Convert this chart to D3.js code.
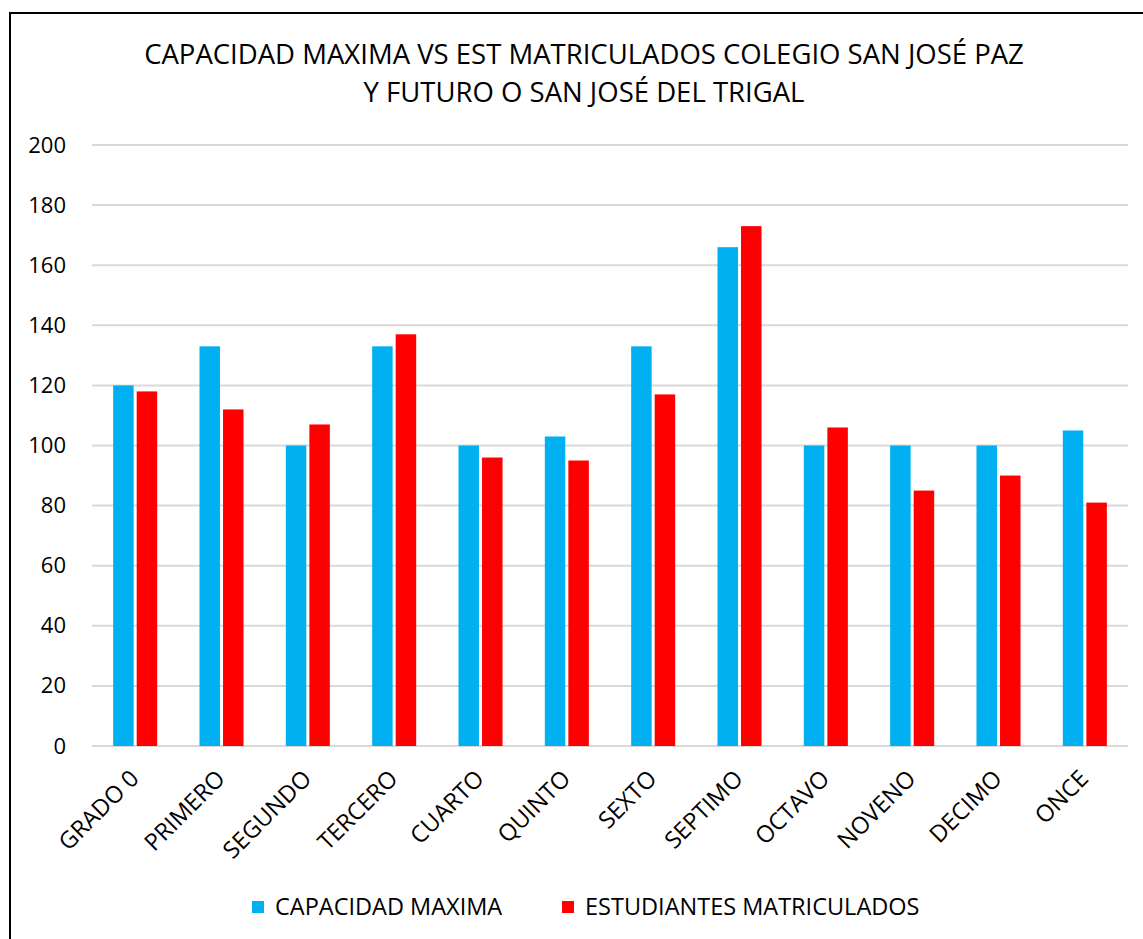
<!DOCTYPE html>
<html>
<head>
<meta charset="utf-8">
<script src="https://cdn.jsdelivr.net/npm/d3@7"></script>
<style>
  body { margin: 0; background: #fff; }
  text { font-family: "Open Sans", "Noto Sans", sans-serif; fill: #000; }
</style>
</head>
<body>
<div id="chart"></div>
<script>
// data
var grados = ["GRADO 0", "PRIMERO", "SEGUNDO", "TERCERO", "CUARTO", "QUINTO",
  "SEXTO", "SEPTIMO", "OCTAVO", "NOVENO", "DECIMO", "ONCE"]
var capacidad = [120, 133, 100, 133, 100, 103, 133, 166, 100, 100, 100, 105]
var matriculados = [118, 112, 107, 137, 96, 95, 117, 173, 106, 85, 90, 81]
var series = ["CAPACIDAD MAXIMA", "ESTUDIANTES MATRICULADOS"]
var yTicks = [0, 20, 40, 60, 80, 100, 120, 140, 160, 180, 200]
var titleLines = ["CAPACIDAD MAXIMA VS EST MATRICULADOS COLEGIO SAN JOSÉ PAZ",
  "Y FUTURO O SAN JOSÉ DEL TRIGAL"]

var W = 1143, H = 939
var margin = { top: 145, right: 15, bottom: 193, left: 92 },
  width = W - margin.left - margin.right,
  height = H - margin.top - margin.bottom

var color = d3.scaleOrdinal().domain(series).range(["#00B0F0", "#FF0000"])

var root = d3.select("#chart").append("svg")
  .attr("width", W)
  .attr("height", H)

// chart frame
root.append("rect")
  .attr("x", 10).attr("y", 13)
  .attr("width", W + 20).attr("height", H + 20)
  .style("fill", "white")
  .style("stroke", "black")
  .style("stroke-width", 2)

// title
root.append("g").selectAll("text")
  .data(titleLines)
  .enter()
  .append("text")
  .attr("x", 584)
  .attr("y", function (d, i) { return 64 + i * 38 })
  .attr("text-anchor", "middle")
  .style("font-size", "27.5px")
  .text(function (d) { return d })

var svg = root.append("g")
  .attr("transform", "translate(" + margin.left + "," + margin.top + ")")

var x = d3.scaleBand().domain(grados).range([0, width])
var xSub = d3.scaleBand().domain(series)
  .range([x.bandwidth() * 0.245, x.bandwidth() * 0.755])
  .paddingInner(0.13)
var y = d3.scaleLinear().domain([0, 200]).range([height, 0])

// gridlines
svg.append("g")
  .selectAll("line")
  .data(yTicks)
  .enter()
  .append("line")
  .attr("x1", 0).attr("x2", width)
  .attr("y1", function (d) { return y(d) })
  .attr("y2", function (d) { return y(d) })
  .style("stroke", "#d9d9d9")
  .style("stroke-width", 2)

// y axis labels
var yAxis = svg.append("g")
  .call(d3.axisLeft(y).tickValues(yTicks).tickSize(0).tickPadding(26))
yAxis.select(".domain").remove()
yAxis.selectAll("text").style("font-size", "22px")

// bars
var rows = grados.map(function (g, i) {
  return { grado: g, vals: [capacidad[i], matriculados[i]] }
})
var groups = svg.append("g")
  .selectAll("g")
  .data(rows)
  .enter()
  .append("g")
  .attr("transform", function (d) { return "translate(" + x(d.grado) + ",0)" })

groups.selectAll("rect")
  .data(function (d) { return series.map(function (s, j) { return { key: s, value: d.vals[j] } }) })
  .enter()
  .append("rect")
  .attr("x", function (d) { return xSub(d.key) })
  .attr("width", xSub.bandwidth())
  .attr("y", function (d) { return y(d.value) })
  .attr("height", function (d) { return height - y(d.value) })
  .style("fill", function (d) { return color(d.key) })

// x axis labels, rotated
var xAxis = svg.append("g")
  .attr("transform", "translate(0," + height + ")")
  .call(d3.axisBottom(x).tickSize(0).tickPadding(0))
xAxis.select(".domain").remove()
xAxis.selectAll("text")
  .style("font-size", "23.5px")
  .style("text-anchor", "end")
  .attr("dy", 0)
  .attr("transform", "translate(5,34) rotate(-45)")

// legend
var legendX = [252, 562]
var legend = root.append("g")
  .attr("transform", "translate(0,907)")
legend.selectAll("rect")
  .data(series)
  .enter()
  .append("rect")
  .attr("x", function (d, i) { return legendX[i] })
  .attr("y", -6)
  .attr("width", 12)
  .attr("height", 12)
  .style("fill", function (d) { return color(d) })
legend.selectAll("text")
  .data(series)
  .enter()
  .append("text")
  .attr("x", function (d, i) { return legendX[i] + 23 })
  .attr("y", 0)
  .attr("dy", "0.35em")
  .style("font-size", "23.5px")
  .text(function (d) { return d })
</script>
</body>
</html>
